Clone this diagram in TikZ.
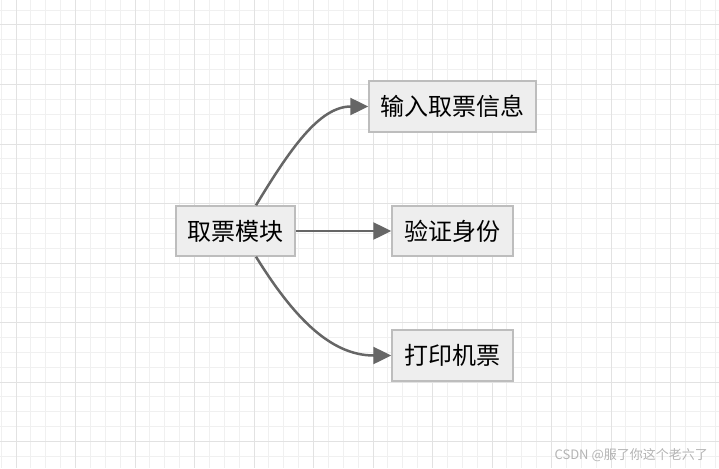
\documentclass[tikz,border=0pt]{standalone}
\usepackage{fontspec}
\newfontfamily\cjk{Noto Sans CJK SC}
\usetikzlibrary{arrows.meta}
\definecolor{minorgrid}{HTML}{F0F0F0}
\definecolor{majorgrid}{HTML}{E2E2E2}
\definecolor{boxfill}{HTML}{EEEEEE}
\definecolor{boxline}{HTML}{BDBDBD}
\definecolor{arrowcol}{HTML}{666666}
\definecolor{wmark}{HTML}{B4B4B4}
\tikzset{
  stepbox/.style={draw=boxline, fill=boxfill, line width=1.5pt, inner sep=0pt,
    font=\cjk\fontsize{24}{28}\selectfont, text=black},
  conn/.style={draw=arrowcol, line width=2.5pt,
    -{Triangle[length=18pt,width=17pt]}},
}
\begin{document}
\begin{tikzpicture}[x=1pt,y=-1pt]
\useasboundingbox (0,0) rectangle (719,468);
\fill[white] (0,0) rectangle (719,468);
% minor grid
\foreach \i in {0,...,48} {
  \pgfmathsetmacro\gx{1.125+14.875*\i}
  \draw[minorgrid, line width=1pt] (\gx,0) -- (\gx,468);
}
\foreach \i in {0,...,31} {
  \pgfmathsetmacro\gy{10.125+14.875*\i}
  \draw[minorgrid, line width=1pt] (0,\gy) -- (719,\gy);
}
% major grid
\foreach \i in {0,...,12} {
  \pgfmathsetmacro\gx{16+59.5*\i}
  \draw[majorgrid, line width=1pt] (\gx,0) -- (\gx,468);
}
\foreach \i in {0,...,7} {
  \pgfmathsetmacro\gy{25+59.5*\i}
  \draw[majorgrid, line width=1pt] (0,\gy) -- (719,\gy);
}
% nodes
\node[stepbox, minimum width=119pt, minimum height=50pt] (A) at (235.5,231) {取票模块};
\node[stepbox, minimum width=167pt, minimum height=51pt] (B) at (452.5,106.5) {输入取票信息};
\node[stepbox, minimum width=121pt, minimum height=50pt] (C) at (452.5,231) {验证身份};
\node[stepbox, minimum width=121pt, minimum height=51pt] (D) at (452.5,355.5) {打印机票};
% connectors
\draw[conn] ([xshift=20.5pt]A.north) .. controls +(34,-56) and +(-49,0) .. (B.west);
\draw[conn] (A.east) -- (C.west);
\draw[conn] ([xshift=20.5pt]A.south) .. controls +(36,58) and +(-62,0) .. (D.west);
% watermark
\node[anchor=east, text=wmark, font=\cjk\fontsize{13}{15}\selectfont, inner sep=0pt] (wm) at (708,455) {CSDN @服了你这个老六了};
\end{tikzpicture}
\end{document}
